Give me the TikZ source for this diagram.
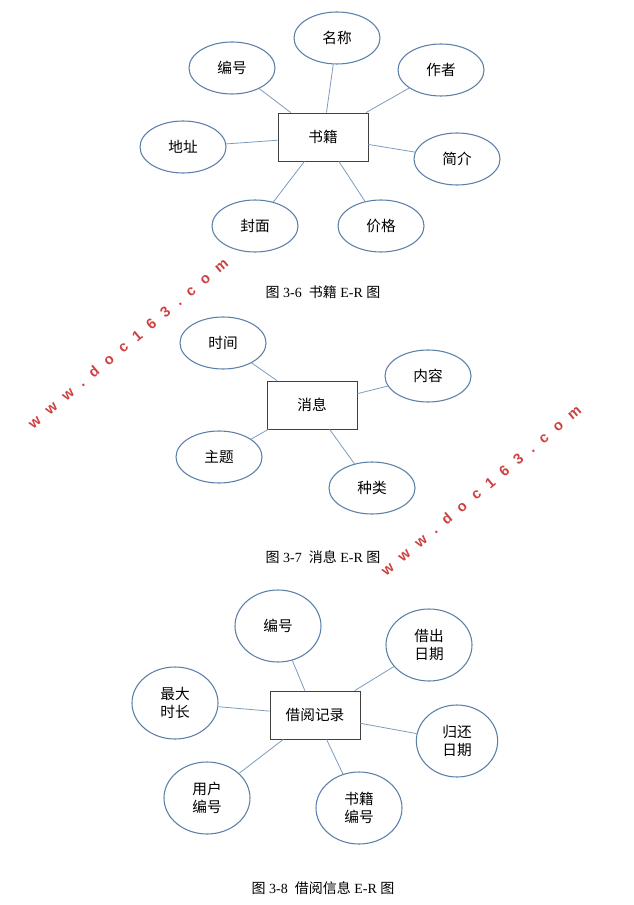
\documentclass[tikz,border=0pt]{standalone}
\usepackage{fontspec}
\setmainfont{Liberation Serif}
\newfontfamily\cjk{Noto Sans CJK SC}
\newfontfamily\wmf[LetterSpace=70]{Liberation Sans Bold}
\usetikzlibrary{shapes.geometric}
\definecolor{eb}{HTML}{5B7FA6}
\definecolor{ln}{HTML}{7A9CC0}
\definecolor{wm}{HTML}{D04040}
\tikzset{
 ent/.style={draw=black!75,line width=0.6pt,minimum width=67.5pt,minimum height=36pt,inner sep=0pt,font=\cjk\fontsize{11}{13}\selectfont},
 att/.style={ellipse,draw=eb,line width=0.8pt,minimum width=64.5pt,minimum height=39pt,inner sep=0pt,align=center,font=\cjk\fontsize{11}{14}\selectfont},
 att2/.style={att,minimum height=54pt},
 lk/.style={draw=ln,line width=0.6pt},
 captxt/.style={font=\fontsize{10.5}{12}\selectfont},
 wmk/.style={text=wm,font=\wmf\fontsize{11}{12}\selectfont}
}
\begin{document}
\begin{tikzpicture}[x=0.75pt,y=-0.75pt]
\useasboundingbox (0,0) rectangle (633,905);
% diagram 1
\node[ent] (b) at (323,137) {书籍};
\node[att] (b1) at (337,38) {名称};
\node[att] (b2) at (232,68) {编号};
\node[att] (b3) at (441,70) {作者};
\node[att] (b4) at (183,147) {地址};
\node[att] (b5) at (457,159) {简介};
\node[att] (b6) at (255,226) {封面};
\node[att] (b7) at (381,226) {价格};
\foreach \i in {1,...,7} \draw[lk] (b\i) -- (b);
\node[captxt] (c1) at (323,292) {{\cjk 图} 3-6\ \ {\cjk 书籍} E-R {\cjk 图}};
% diagram 2
\node[ent] (m) at (312,405) {消息};
\node[att] (m1) at (223,343) {时间};
\node[att] (m2) at (428,376) {内容};
\node[att] (m3) at (219,457) {主题};
\node[att] (m4) at (372,488) {种类};
\foreach \i in {1,...,4} \draw[lk] (m\i) -- (m);
\node[captxt] (c2) at (323,557) {{\cjk 图} 3-7\ \ {\cjk 消息} E-R {\cjk 图}};
% diagram 3
\node[ent] (r) at (315,715) {借阅记录};
\node[att2] (r1) at (278,626) {编号};
\node[att2] (r2) at (429,645) {借出\\日期};
\node[att2] (r3) at (175,703) {最大\\时长};
\node[att2,minimum width=61pt] (r4) at (457,741) {归还\\日期};
\node[att2] (r5) at (207,798) {用户\\编号};
\node[att2] (r6) at (359,808) {书籍\\编号};
\foreach \i in {1,...,6} \draw[lk] (r\i) -- (r);
\node[captxt] (c3) at (323,888) {{\cjk 图} 3-8\ \ {\cjk 借阅信息} E-R {\cjk 图}};
% watermarks
\node[wmk,rotate=40] (w1) at (128,343) {www.doc163.com};
\node[wmk,rotate=40] (w2) at (481,490) {www.doc163.com};
\end{tikzpicture}
\end{document}
